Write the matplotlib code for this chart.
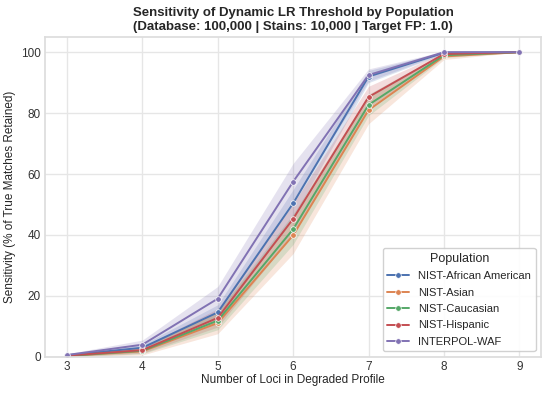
import numpy as np
import matplotlib.pyplot as plt
import seaborn as sns

sns.set_theme(style="whitegrid", rc={"grid.color": "#e6e6e6", "axes.edgecolor": "#dddddd"})
plt.rcParams["font.family"] = ["Liberation Sans", "DejaVu Sans"]

loci = [3, 4, 5, 6, 7, 8, 9]
populations = ["NIST-African American", "NIST-Asian", "NIST-Caucasian", "NIST-Hispanic", "INTERPOL-WAF"]

sens_african = [0.5, 3.0, 14.6, 50.4, 92.0, 99.8, 100.0]
sens_asian = [0.3, 1.8, 11.1, 39.9, 81.0, 98.6, 100.0]
sens_caucasian = [0.3, 2.0, 11.9, 41.9, 82.7, 99.0, 100.0]
sens_hispanic = [0.4, 2.2, 12.8, 45.3, 85.3, 99.4, 100.0]
sens_waf = [0.6, 4.0, 19.1, 57.5, 92.5, 100.0, 100.0]

# half widths of the shaded interval
ci_african = [0.3, 1.0, 2.5, 4.5, 2.0, 0.3, 0.0]
ci_asian = [0.3, 1.2, 3.5, 6.0, 4.5, 1.0, 0.0]
ci_caucasian = [0.3, 1.0, 3.0, 5.0, 3.5, 0.8, 0.0]
ci_hispanic = [0.3, 1.0, 3.0, 5.0, 3.5, 0.6, 0.0]
ci_waf = [0.4, 1.5, 4.0, 6.0, 2.0, 0.3, 0.0]

series = [sens_african, sens_asian, sens_caucasian, sens_hispanic, sens_waf]
cis = [ci_african, ci_asian, ci_caucasian, ci_hispanic, ci_waf]
colors = sns.color_palette("deep", 5)

fig, ax = plt.subplots(figsize=(5.5, 3.93), dpi=100)

for name, y, ci, c in zip(populations, series, cis, colors):
    y = np.array(y)
    ci = np.array(ci)
    ax.fill_between(loci, y - ci, np.minimum(y + ci, 100.5), color=c, alpha=0.2, linewidth=0)
    ax.plot(loci, y, marker="o", markersize=4, markeredgecolor="white", markeredgewidth=0.5,
            linewidth=1.4, color=c, label=name)

ax.set_xlim(2.71, 9.29)
ax.set_ylim(0, 105)
ax.set_yticks([0, 20, 40, 60, 80, 100])
ax.tick_params(labelsize=8.5, pad=3, length=0, colors="#333333")
ax.set_xlabel("Number of Loci in Degraded Profile", fontsize=8.5, labelpad=1)
ax.set_ylabel("Sensitivity (% of True Matches Retained)", fontsize=8.5, labelpad=4)
ax.set_title("Sensitivity of Dynamic LR Threshold by Population\n(Database: 100,000 | Stains: 10,000 | Target FP: 1.0)",
             fontsize=9.5, fontweight="bold", pad=5, linespacing=1.2)
ax.legend(title="Population", loc="lower right", fontsize=8, title_fontsize=9, framealpha=0.9,
          borderaxespad=0.5, labelspacing=0.58, handlelength=2)

fig.subplots_adjust(left=0.082, right=0.984, top=0.906, bottom=0.092)
fig.savefig("out.png")
